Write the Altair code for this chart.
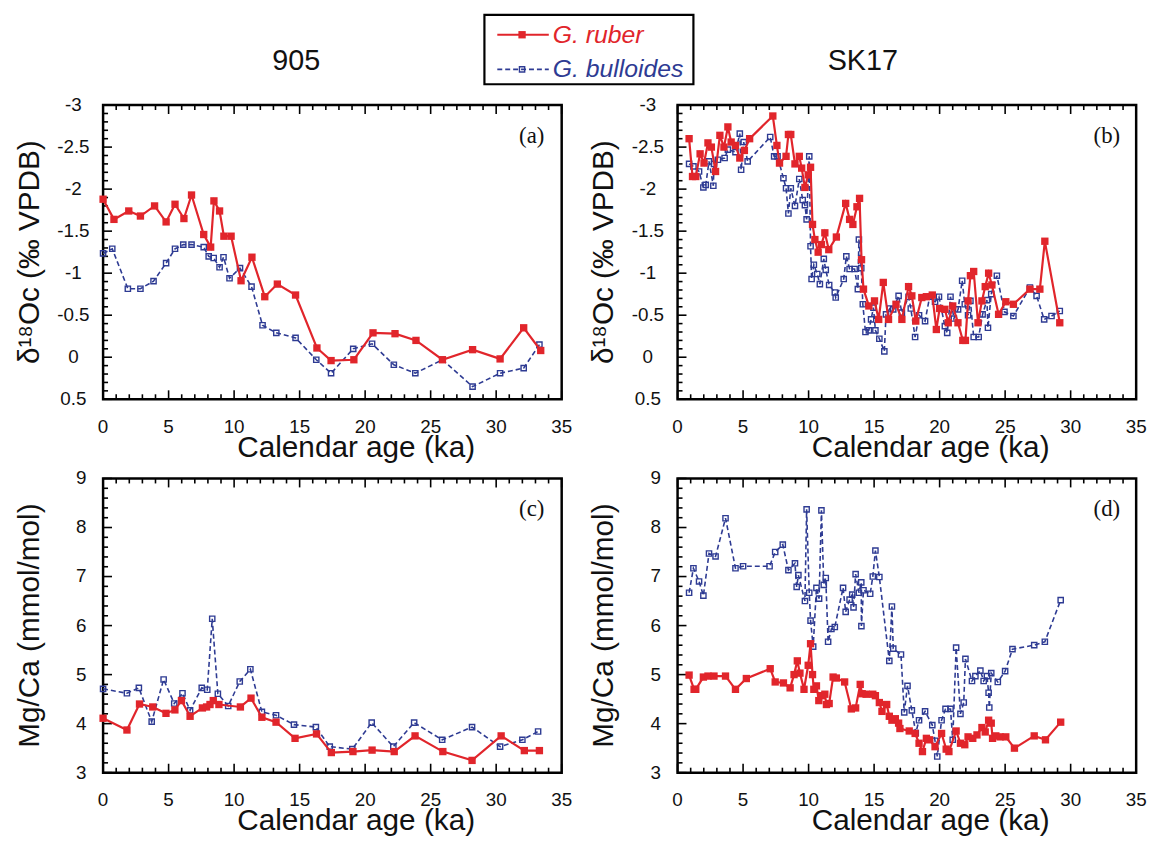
import altair as alt
import pandas as pd

# ---------------- data ----------------
# Panel (a) 905, d18O
a_ruber_age = [0.0, 0.83, 1.96, 2.85, 3.93, 4.81, 5.49, 6.17, 6.75, 7.68, 8.21, 8.46, 8.89, 9.22, 9.77,
               10.53, 11.36, 12.34, 13.3, 14.69, 16.32, 17.4, 19.14, 20.6, 22.28, 23.88, 25.9, 28.2,
               30.3, 32.1, 33.4]
a_ruber_d18o = [-1.88, -1.64, -1.74, -1.68, -1.80, -1.61, -1.82, -1.65, -1.93, -1.46, -1.31, -1.86, -1.74,
                -1.44, -1.44, -0.91, -1.19, -0.72, -0.87, -0.74, -0.11, 0.04, 0.03, -0.29, -0.28, -0.20,
                0.03, -0.09, 0.02, -0.35, -0.08]
a_bull_age = [0.0, 0.7, 1.89, 2.85, 3.85, 4.81, 5.49, 6.12, 6.75, 7.68, 8.06, 8.44, 8.89, 9.19, 9.65,
              10.45, 11.33, 12.17, 13.22, 14.69, 16.27, 17.4, 19.09, 20.53, 22.19, 23.83, 25.9, 28.2,
              30.3, 32.1, 33.3]
a_bull_d18o = [-1.235, -1.29, -0.815, -0.815, -0.905, -1.12, -1.29, -1.34, -1.34, -1.31, -1.20, -1.18,
               -1.07, -1.19, -0.94, -1.06, -0.84, -0.38, -0.29, -0.23, 0.03, 0.19, -0.10, -0.16, 0.09,
               0.19, 0.03, 0.35, 0.19, 0.13, -0.15]

# Panel (b) SK17, d18O
b_ruber_age = [0.88, 1.14, 1.39, 1.72, 2.02, 2.32, 2.58, 2.9, 3.23, 3.54, 3.84, 4.09, 4.42, 4.75, 5.1, 5.5,
               7.27, 7.58, 7.78, 8.28, 8.46, 8.64, 8.96, 9.29, 9.47, 9.72, 9.97, 10.15, 10.3, 10.48, 10.73,
               10.98, 11.24, 11.54, 12.12, 12.83, 13.13, 13.38, 13.69, 13.89, 14.04, 14.19, 14.6, 15.03,
               15.35, 15.7, 16.1, 16.67, 17.12, 17.63, 17.88, 18.18, 18.64, 18.99, 19.44, 19.75, 20.0,
               20.4, 20.66, 21.0, 21.4, 21.77, 21.97, 22.17, 22.35, 22.6, 22.93, 23.23, 23.48, 23.74,
               23.99, 24.5, 25.05, 25.63, 26.89, 27.65, 28.03, 29.17]
b_ruber_d18o = [-2.60, -2.15, -2.15, -2.42, -2.31, -2.55, -2.50, -2.21, -2.64, -2.50, -2.74, -2.56, -2.52,
                -2.37, -2.46, -2.60, -2.87, -2.52, -2.31, -2.39, -2.65, -2.65, -2.30, -2.39, -2.25, -2.02,
                -2.17, -2.26, -1.58, -1.40, -1.25, -1.34, -1.48, -1.28, -1.43, -1.83, -1.64, -1.58, -1.79,
                -1.89, -1.16, -0.81, -0.61, -0.67, -0.45, -0.89, -0.45, -0.63, -0.45, -0.84, -0.73, -0.43,
                -0.71, -0.72, -0.74, -0.33, -0.58, -0.57, -0.41, -0.61, -0.41, -0.20, -0.20, -0.67, -0.97,
                -1.02, -0.41, -0.67, -0.84, -1.00, -0.86, -0.51, -0.66, -0.63, -0.81, -0.81, -1.38, -0.41]
b_bull_age = [0.88, 1.21, 1.64, 1.97, 2.15, 2.4, 2.73, 2.78, 3.08, 3.59, 3.84, 4.42, 4.75, 4.85, 5.05, 5.35,
              7.07, 7.37, 7.63, 8.08, 8.28, 8.46, 8.64, 8.96, 9.29, 9.55, 9.72, 9.85, 10.05, 10.15, 10.23,
              10.4, 10.66, 10.86, 11.16, 11.31, 11.57, 12.0, 12.07, 12.68, 12.88, 13.13, 13.51, 13.76,
              13.84, 14.02, 14.14, 14.34, 14.6, 14.77, 14.95, 15.1, 15.4, 15.78, 15.91, 16.21, 16.46,
              16.87, 17.12, 17.63, 17.8, 18.13, 18.43, 18.89, 19.24, 19.65, 19.95, 20.4, 20.58, 20.83,
              21.09, 21.41, 21.72, 21.92, 22.17, 22.35, 22.6, 22.98, 23.28, 23.61, 23.69, 23.94, 24.37,
              24.95, 25.63, 26.89, 27.4, 27.98, 28.54, 29.17]
b_bull_d18o = [-2.30, -2.27, -2.21, -2.02, -2.05, -2.33, -2.04, -2.30, -2.35, -2.37, -2.47, -2.44, -2.66,
               -2.23, -2.56, -2.33, -2.62, -2.39, -2.39, -2.13, -2.01, -1.71, -2.01, -1.80, -2.12, -1.87,
               -1.81, -1.64, -2.39, -1.32, -0.93, -1.10, -0.99, -0.87, -1.17, -1.04, -0.86, -0.77, -0.71,
               -0.93, -1.20, -1.05, -1.05, -0.81, -1.40, -1.06, -0.63, -0.30, -0.32, -0.45, -0.59, -0.32,
               -0.22, -0.07, -0.51, -0.58, -0.57, -0.73, -0.53, -0.72, -0.58, -0.24, -0.50, -0.43, -0.72,
               -0.66, -0.72, -0.37, -0.29, -0.72, -0.46, -0.57, -0.91, -0.63, -0.50, -0.67, -0.24, -0.24,
               -0.51, -0.68, -0.35, -0.75, -0.97, -0.54, -0.49, -0.83, -0.73, -0.45, -0.49, -0.55]

# Panel (c) 905, Mg/Ca
c_ruber_age = [0.0, 1.82, 2.78, 3.79, 4.8, 5.48, 5.98, 6.64, 7.58, 7.9, 8.16, 8.41, 8.84, 10.48, 11.29,
               12.12, 13.2, 14.65, 16.29, 17.42, 19.07, 20.53, 22.22, 23.81, 25.93, 28.16, 30.38, 32.15, 33.3]
c_ruber_mgca = [4.11, 3.87, 4.40, 4.34, 4.21, 4.28, 4.47, 4.15, 4.32, 4.34, 4.39, 4.47, 4.39, 4.34, 4.52,
                4.13, 4.03, 3.70, 3.79, 3.41, 3.43, 3.46, 3.43, 3.75, 3.43, 3.25, 3.75, 3.45, 3.45]
c_bull_age = [0.0, 1.82, 2.73, 3.71, 4.62, 5.43, 6.06, 6.64, 7.53, 7.95, 8.33, 8.76, 9.55, 10.43, 11.24,
              12.12, 13.2, 14.57, 16.24, 17.3, 19.02, 20.5, 22.15, 23.74, 25.88, 28.16, 30.3, 32.0, 33.2]
c_bull_mgca = [4.71, 4.62, 4.73, 4.04, 4.90, 4.41, 4.62, 4.27, 4.73, 4.69, 6.14, 4.61, 4.36, 4.86, 5.11,
               4.24, 4.17, 3.98, 3.93, 3.53, 3.48, 4.02, 3.53, 4.02, 3.67, 3.93, 3.53, 3.67, 3.84]

# Panel (d) SK17, Mg/Ca
d_ruber_age = [0.88, 1.26, 1.39, 1.97, 2.32, 2.78, 3.66, 4.42, 5.25, 7.07, 7.45, 8.08, 8.59, 8.89, 9.14,
               9.34, 9.65, 9.97, 10.15, 10.3, 10.4, 10.6, 10.78, 10.98, 11.24, 11.36, 11.57, 11.87, 12.12,
               12.75, 13.26, 13.59, 13.94, 14.09, 14.39, 14.9, 15.1, 15.4, 15.6, 15.96, 16.16, 16.36,
               16.62, 16.87, 16.97, 17.68, 18.13, 18.43, 18.69, 18.99, 19.24, 19.65, 20.15, 20.5, 20.71,
               21.26, 21.59, 21.92, 22.17, 22.53, 22.85, 23.23, 23.48, 23.74, 23.94, 24.04, 24.29, 24.62,
               25.05, 25.71, 27.22, 28.08, 29.24]
d_ruber_mgca = [4.99, 4.70, 4.70, 4.95, 4.97, 4.97, 4.97, 4.70, 4.92, 5.12, 4.85, 4.83, 4.73, 5.00, 5.28,
                5.03, 4.70, 5.19, 5.63, 5.00, 4.70, 4.77, 4.47, 4.57, 4.60, 4.39, 4.41, 4.95, 4.93, 4.85,
                4.30, 4.32, 4.80, 4.61, 4.60, 4.60, 4.57, 4.43, 4.25, 4.39, 4.15, 4.07, 4.10, 4.01, 3.90,
                3.85, 3.80, 3.60, 3.43, 3.70, 3.67, 3.53, 3.80, 3.48, 3.43, 3.85, 3.60, 3.57, 3.73, 3.70,
                3.77, 3.92, 3.83, 4.07, 4.01, 3.70, 3.75, 3.73, 3.73, 3.50, 3.75, 3.67, 4.03]
d_bull_age = [0.88, 1.21, 1.64, 1.97, 2.4, 2.9, 3.66, 4.42, 5.0, 7.02, 7.45, 8.03, 8.46, 8.96, 9.09, 9.22,
              9.72, 9.85, 10.05, 10.15, 10.35, 10.6, 10.8, 10.98, 11.16, 11.31, 11.49, 11.74, 12.0, 12.63,
              12.83, 13.13, 13.33, 13.43, 13.59, 13.84, 14.02, 14.03, 14.19, 14.7, 14.9, 15.1, 15.4,
              16.16, 16.36, 16.46, 17.05, 17.3, 17.55, 17.88, 18.18, 18.43, 18.89, 19.44, 19.65, 19.82,
              20.15, 20.45, 20.83, 21.0, 21.26, 21.59, 21.84, 21.97, 22.47, 22.73, 23.11, 23.36, 23.61,
              23.74, 23.79, 23.94, 24.44, 25.0, 25.56, 27.22, 28.03, 29.24]
d_bull_mgca = [6.67, 7.17, 6.90, 6.61, 7.47, 7.41, 8.19, 7.17, 7.21, 7.21, 7.50, 7.65, 7.13, 7.27, 6.79,
               7.03, 6.50, 8.37, 6.67, 6.10, 5.57, 6.77, 6.55, 8.35, 6.83, 6.97, 5.67, 5.93, 5.97, 6.77,
               6.28, 6.53, 6.63, 6.37, 7.05, 6.67, 6.88, 5.99, 6.72, 6.65, 7.00, 7.53, 6.99, 5.28, 6.39,
               5.53, 5.41, 4.23, 4.77, 4.27, 3.81, 4.07, 4.25, 3.97, 3.65, 3.33, 4.07, 4.30, 4.30, 3.67,
               5.55, 4.20, 4.43, 5.32, 4.87, 4.97, 5.08, 4.87, 4.97, 4.63, 4.33, 5.03, 4.85, 5.07, 5.52,
               5.60, 5.67, 6.52]

site_titles = ["905", "SK17"]
panel_labels = ["(a)", "(b)", "(c)", "(d)"]
legend_labels = ["G. ruber", "G. bulloides"]
x_title = "Calendar age (ka)"
y_titles = ["δ¹⁸Oc (‰ VPDB)", "Mg/Ca (mmol/mol)"]

x_major = [0, 5, 10, 15, 20, 25, 30, 35]
x_minor = [i for i in range(36) if i % 5]
d18o_major = [-3, -2.5, -2, -1.5, -1, -0.5, 0, 0.5]
d18o_minor = [round(-3 + 0.1 * i, 1) for i in range(36) if i % 5]
mgca_major = [3, 4, 5, 6, 7, 8, 9]
mgca_minor = [round(3 + 0.2 * i, 1) for i in range(31) if i % 5]

# ---------------- styling ----------------
RED = "#e1252b"
BLUE = "#2e3b93"
INK = "#111111"
FONT = "Liberation Sans"
W, H = 463, 297
MAJ, MIN = 9, 5


def fmt(v):
    return "%g" % v


def panel(idx, rx, ry, bx, by, ydomain, yrev, ymaj, ymin, ytitle, ylab_x, title=None, title_x=192,
          legend=False):
    xs = alt.Scale(domain=[0, 35], nice=False, zero=False)
    ys = alt.Scale(domain=ydomain, nice=False, zero=False, reverse=yrev)
    X = lambda f: alt.X(f, type="quantitative", scale=xs, axis=None)
    Y = lambda f: alt.Y(f, type="quantitative", scale=ys, axis=None)

    dr = pd.DataFrame({"age": rx, "v": ry})
    db = pd.DataFrame({"age": bx, "v": by})
    one = pd.DataFrame({"k": [0]})
    layers = []
    # inward ticks on bottom, top and left (shared scales)
    for vals, ln in ((x_major, MAJ), (x_minor, MIN)):
        d = pd.DataFrame({"t": vals})
        layers.append(alt.Chart(d).mark_rule(color="black", strokeWidth=1.6).encode(
            x=alt.X("t:Q", axis=None), y=alt.value(H), y2=alt.value(H - ln)))
        layers.append(alt.Chart(d).mark_rule(color="black", strokeWidth=1.6).encode(
            x=alt.X("t:Q", axis=None), y=alt.value(0), y2=alt.value(ln)))
    for vals, ln in ((ymaj, MAJ), (ymin, MIN)):
        d = pd.DataFrame({"t": vals})
        layers.append(alt.Chart(d).mark_rule(color="black", strokeWidth=1.6).encode(
            y=alt.Y("t:Q", axis=None), x=alt.value(0), x2=alt.value(ln)))
    # data
    layers += [
        alt.Chart(db).mark_line(color=BLUE, strokeWidth=1.6, strokeDash=[5, 3]).encode(
            x=X("age"), y=Y("v")),
        alt.Chart(db).mark_point(shape="square", filled=False, color=BLUE, size=28,
                                 strokeWidth=1.4, opacity=1).encode(x=X("age"), y=Y("v")),
        alt.Chart(dr).mark_line(color=RED, strokeWidth=2.2).encode(x=X("age"), y=Y("v")),
        alt.Chart(dr).mark_point(shape="square", filled=True, color=RED, size=55,
                                 opacity=1).encode(x=X("age"), y=Y("v")),
    ]
    # tick labels
    xl = pd.DataFrame({"age": x_major, "lab": [fmt(v) for v in x_major]})
    layers.append(alt.Chart(xl).mark_text(font=FONT, fontSize=19, color=INK, align="center",
                                          baseline="top").encode(
        x=X("age"), y=alt.value(H + 19), text="lab:N"))
    yl = pd.DataFrame({"v": ymaj, "lab": [fmt(v) for v in ymaj]})
    layers.append(alt.Chart(yl).mark_text(font=FONT, fontSize=19, color=INK, align="center",
                                          baseline="middle").encode(
        y=Y("v"), x=alt.value(ylab_x), text="lab:N"))
    # axis titles
    layers.append(alt.Chart(one).mark_text(font=FONT, fontSize=30, color=INK, align="center",
                                           baseline="top").encode(
        x=alt.value(W / 2 + 24), y=alt.value(H + 34), text=alt.value(x_title)))
    layers.append(alt.Chart(one).mark_text(font=FONT, fontSize=30, color=INK, align="center",
                                           baseline="bottom", angle=270).encode(
        x=alt.value(-59), y=alt.value(H / 2), text=alt.value(ytitle)))
    layers.append(alt.Chart(one).mark_text(font="Liberation Serif", fontSize=23, align="left",
                                           baseline="middle", color=INK).encode(
        x=alt.value(420), y=alt.value(31), text=alt.value(panel_labels[idx])))
    if title is not None:
        layers.append(alt.Chart(one).mark_text(font=FONT, fontSize=29, align="center",
                                               baseline="bottom", color=INK).encode(
            x=alt.value(title_x), y=alt.value(-29), text=alt.value(title)))
    if legend:
        layers += [
            alt.Chart(one).mark_rect(fill="white", stroke="black", strokeWidth=2.2).encode(
                x=alt.value(385), x2=alt.value(596), y=alt.value(-91), y2=alt.value(-21)),
            alt.Chart(one).mark_rule(color=RED, strokeWidth=2.2).encode(
                x=alt.value(398), x2=alt.value(450), y=alt.value(-71)),
            alt.Chart(one).mark_point(shape="square", filled=True, color=RED, size=55,
                                      opacity=1).encode(x=alt.value(423), y=alt.value(-71)),
            alt.Chart(one).mark_rule(color=BLUE, strokeWidth=1.6, strokeDash=[5, 3]).encode(
                x=alt.value(398), x2=alt.value(450), y=alt.value(-36)),
            alt.Chart(one).mark_point(shape="square", filled=False, color=BLUE, size=28,
                                      strokeWidth=1.4, opacity=1).encode(x=alt.value(423), y=alt.value(-36)),
            alt.Chart(one).mark_text(font=FONT, fontSize=25, fontStyle="italic", align="left",
                                     baseline="middle", color=RED).encode(
                x=alt.value(454), y=alt.value(-71), text=alt.value(legend_labels[0])),
            alt.Chart(one).mark_text(font=FONT, fontSize=25, fontStyle="italic", align="left",
                                     baseline="middle", color=BLUE).encode(
                x=alt.value(454), y=alt.value(-36), text=alt.value(legend_labels[1])),
        ]
    return alt.layer(*layers).properties(width=W, height=H)


pa = panel(0, a_ruber_age, a_ruber_d18o, a_bull_age, a_bull_d18o, [-3, 0.5], True,
           d18o_major, d18o_minor, y_titles[0], -30, title=site_titles[0], title_x=195, legend=True)
pb = panel(1, b_ruber_age, b_ruber_d18o, b_bull_age, b_bull_d18o, [-3, 0.5], True,
           d18o_major, d18o_minor, y_titles[0], -30, title=site_titles[1], title_x=187)
pc = panel(2, c_ruber_age, c_ruber_mgca, c_bull_age, c_bull_mgca, [3, 9], False,
           mgca_major, mgca_minor, y_titles[1], -22)
pd_ = panel(3, d_ruber_age, d_ruber_mgca, d_bull_age, d_bull_mgca, [3, 9], False,
            mgca_major, mgca_minor, y_titles[1], -22)

chart = alt.concat(pa, pb, pc, pd_, columns=2, spacing={"row": 80, "column": 117},
                   bounds="flush").configure_view(stroke="black", strokeWidth=2.5).properties(
    padding={"left": 5, "top": 0, "right": 5, "bottom": 0}, background="white")

chart.save("out.html", embed_options={"renderer": "svg", "actions": False})
